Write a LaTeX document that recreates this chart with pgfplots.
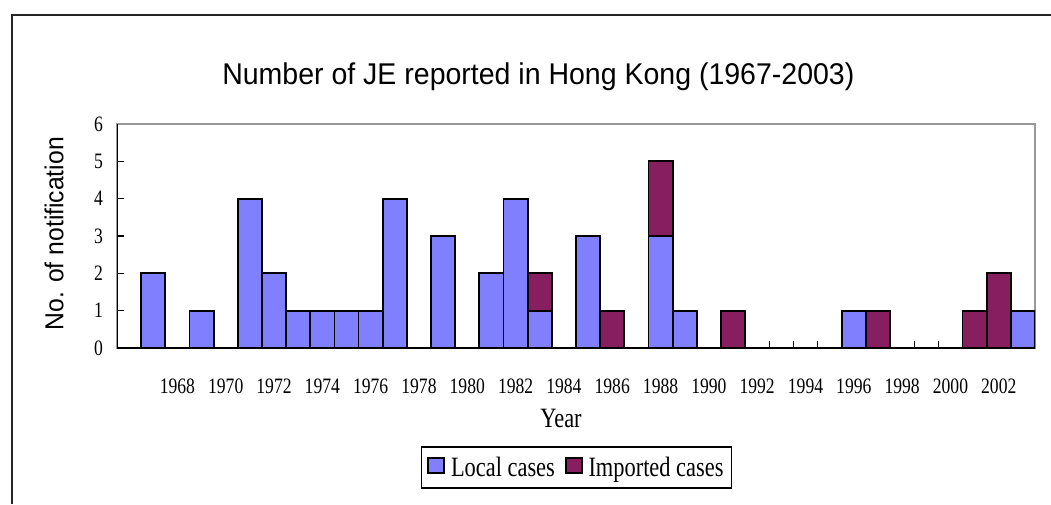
\documentclass[border=0pt]{standalone}
\usepackage{fontspec}
\setmainfont{Liberation Serif}
\newfontfamily\tnr[FakeStretch=0.8]{Liberation Serif}
\newfontfamily\arial[FakeStretch=0.95]{Liberation Sans}
\usepackage{pgfplots}
\usepackage{pgfplotstable}
\pgfplotsset{compat=1.18}
\definecolor{localc}{RGB}{128,128,255}
\definecolor{impc}{RGB}{135,30,95}
\pgfplotsset{mybarlegend/.style={legend image code/.code={\draw[##1, line width=1.6pt] (0pt,-6pt) rectangle (16pt,9pt);}}}

\pgfplotstableread{
year local imported
1967 2 0
1968 0 0
1969 1 0
1970 0 0
1971 4 0
1972 2 0
1973 1 0
1974 1 0
1975 1 0
1976 1 0
1977 4 0
1978 0 0
1979 3 0
1980 0 0
1981 2 0
1982 4 0
1983 1 1
1984 0 0
1985 3 0
1986 0 1
1987 0 0
1988 3 2
1989 1 0
1990 0 0
1991 0 1
1992 0 0
1993 0 0
1994 0 0
1995 0 0
1996 1 0
1997 0 1
1998 0 0
1999 0 0
2000 0 0
2001 0 1
2002 0 2
2003 1 0
}\datatable

\begin{document}
\begin{tikzpicture}[x=1pt,y=1pt]
\path[use as bounding box] (0,0) rectangle (1051,504);
\draw[black!85, line width=1.8pt] (12,0) -- (12,489) -- (1051,489);
\begin{axis}[
  at={(117pt,156pt)}, anchor=south west,
  scale only axis, width=918pt, height=224pt,
  xmin=1965.5, xmax=2003.5, ymin=0, ymax=6,
  ybar stacked, bar width=1,
  axis line style={draw=black!40, line width=1.6pt},
  xtick={1966.5,1967.5,...,2002.5}, xticklabels={},
  ytick={0,1,2,3,4,5,6}, yticklabels={0,1,2,3,4,5,6},
  xtick pos=bottom, ytick pos=left,
  tick align=inside, major tick length=7pt,
  tick style={black, line width=1.4pt},
  extra x ticks={1968,1970,1972,1974,1976,1978,1980,1982,1984,1986,1988,1990,1992,1994,1996,1998,2000,2002},
  extra x tick labels={1968,1970,1972,1974,1976,1978,1980,1982,1984,1986,1988,1990,1992,1994,1996,1998,2000,2002},
  extra x tick style={major tick length=0pt},
  xticklabel style={font=\tnr\fontsize{22}{22}\selectfont, anchor=base, yshift=-45pt},
  yticklabel style={font=\tnr\fontsize{22}{22}\selectfont, anchor=east, inner sep=0pt, xshift=-14pt},
  title={Number of JE reported in Hong Kong (1967-2003)},
  title style={at={(axis description cs:0.459,1.185)}, anchor=center, font=\arial\fontsize{30}{30}\selectfont},
  ylabel={No. of notification},
  ylabel style={at={(axis description cs:-0.0686,0.51)}, anchor=center, font=\arial\fontsize{26}{26}\selectfont},
  xlabel={Year},
  xlabel style={at={(axis description cs:0.4837,-0.3527)}, anchor=base, font=\tnr\fontsize{28}{28}\selectfont},
  legend columns=2,
  legend style={at={(axis description cs:0.5005,-0.4375)}, anchor=north, draw=black, line width=1.6pt,
    font=\tnr\fontsize{28}{28}\selectfont, inner xsep=6pt, inner ysep=8pt,
    /tikz/every odd column/.append style={column sep=4pt},
    /tikz/every even column/.append style={column sep=8pt}},
]
\addplot[fill=localc, draw=black, line width=1.8pt, mybarlegend]
  table[x=year, y=local] {\datatable};
\addlegendentry{Local cases}
\addplot[fill=impc, draw=black, line width=1.8pt, mybarlegend]
  table[x=year, y=imported] {\datatable};
\addlegendentry{Imported cases}
\draw[black, line width=1.6pt] (rel axis cs:0,1) -- (rel axis cs:0,0) -- (rel axis cs:1,0);
\end{axis}
\end{tikzpicture}
\end{document}
